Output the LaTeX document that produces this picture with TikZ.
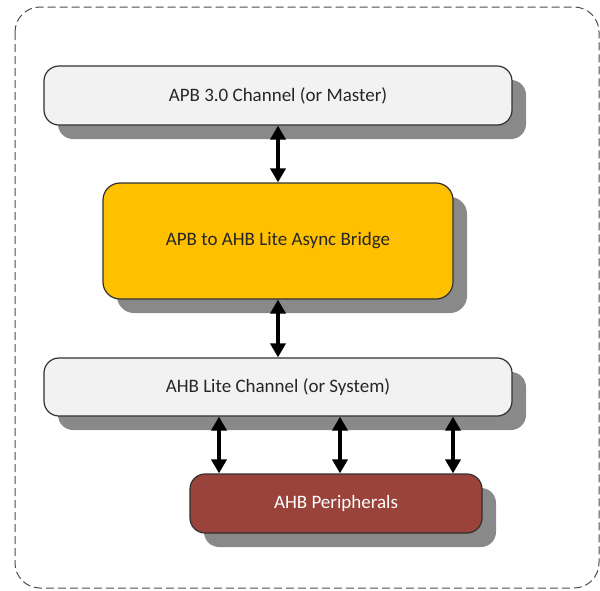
\documentclass[tikz,border=0pt]{standalone}
\usepackage{fontspec}
\setmainfont{Carlito}
\usetikzlibrary{arrows.meta,shadows}
\definecolor{shadowgray}{HTML}{898989}
\definecolor{boxgray}{HTML}{F2F2F2}
\definecolor{bridgeyellow}{HTML}{FFC000}
\definecolor{periphred}{HTML}{9A433B}
\definecolor{txtdark}{HTML}{262626}
\definecolor{borderc}{HTML}{303030}
\tikzset{
  blockbox/.style={draw=borderc, line width=1.2pt, rounded corners=15pt,
    font=\fontsize{19}{23}\selectfont, text=txtdark, inner sep=0pt,
    drop shadow={shadow xshift=14pt, shadow yshift=-14pt, fill=shadowgray, opacity=1}},
  biarrow/.style={line width=3.5pt, {Triangle[length=14pt,width=15pt]}-{Triangle[length=14pt,width=15pt]}},
  outerframe/.style={draw=black!70, line width=1pt, dash pattern=on 8pt off 4pt, rounded corners=25pt}
}
\begin{document}
\begin{tikzpicture}[x=1pt,y=-1pt]
\useasboundingbox (0,0) rectangle (600,590);
\draw[outerframe] (15,7) rectangle (599,588);
\node[blockbox, fill=boxgray, minimum width=468pt, minimum height=59pt] (apb) at (278,95.5) {APB 3.0 Channel (or Master)};
\node[blockbox, fill=bridgeyellow, minimum width=350pt, minimum height=116pt, rounded corners=17pt] (bridge) at (278,241) {APB to AHB Lite Async Bridge};
\node[blockbox, fill=boxgray, minimum width=468pt, minimum height=58pt] (ahb) at (278,387) {AHB Lite Channel (or System)};
\node[blockbox, fill=periphred, text=white, minimum width=292pt, minimum height=59pt] (per) at (336,503.5) {AHB Peripherals};
\draw[biarrow] (apb.south) -- (bridge.north);
\draw[biarrow] (bridge.south) -- (ahb.south |- ahb.north);
\draw[biarrow] ([xshift=-59pt]ahb.south) -- ([xshift=-59pt]ahb.south |- per.north);
\draw[biarrow] ([xshift=62pt]ahb.south) -- ([xshift=62pt]ahb.south |- per.north);
\draw[biarrow] ([xshift=175pt]ahb.south) -- ([xshift=175pt]ahb.south |- per.north);
\end{tikzpicture}
\end{document}
